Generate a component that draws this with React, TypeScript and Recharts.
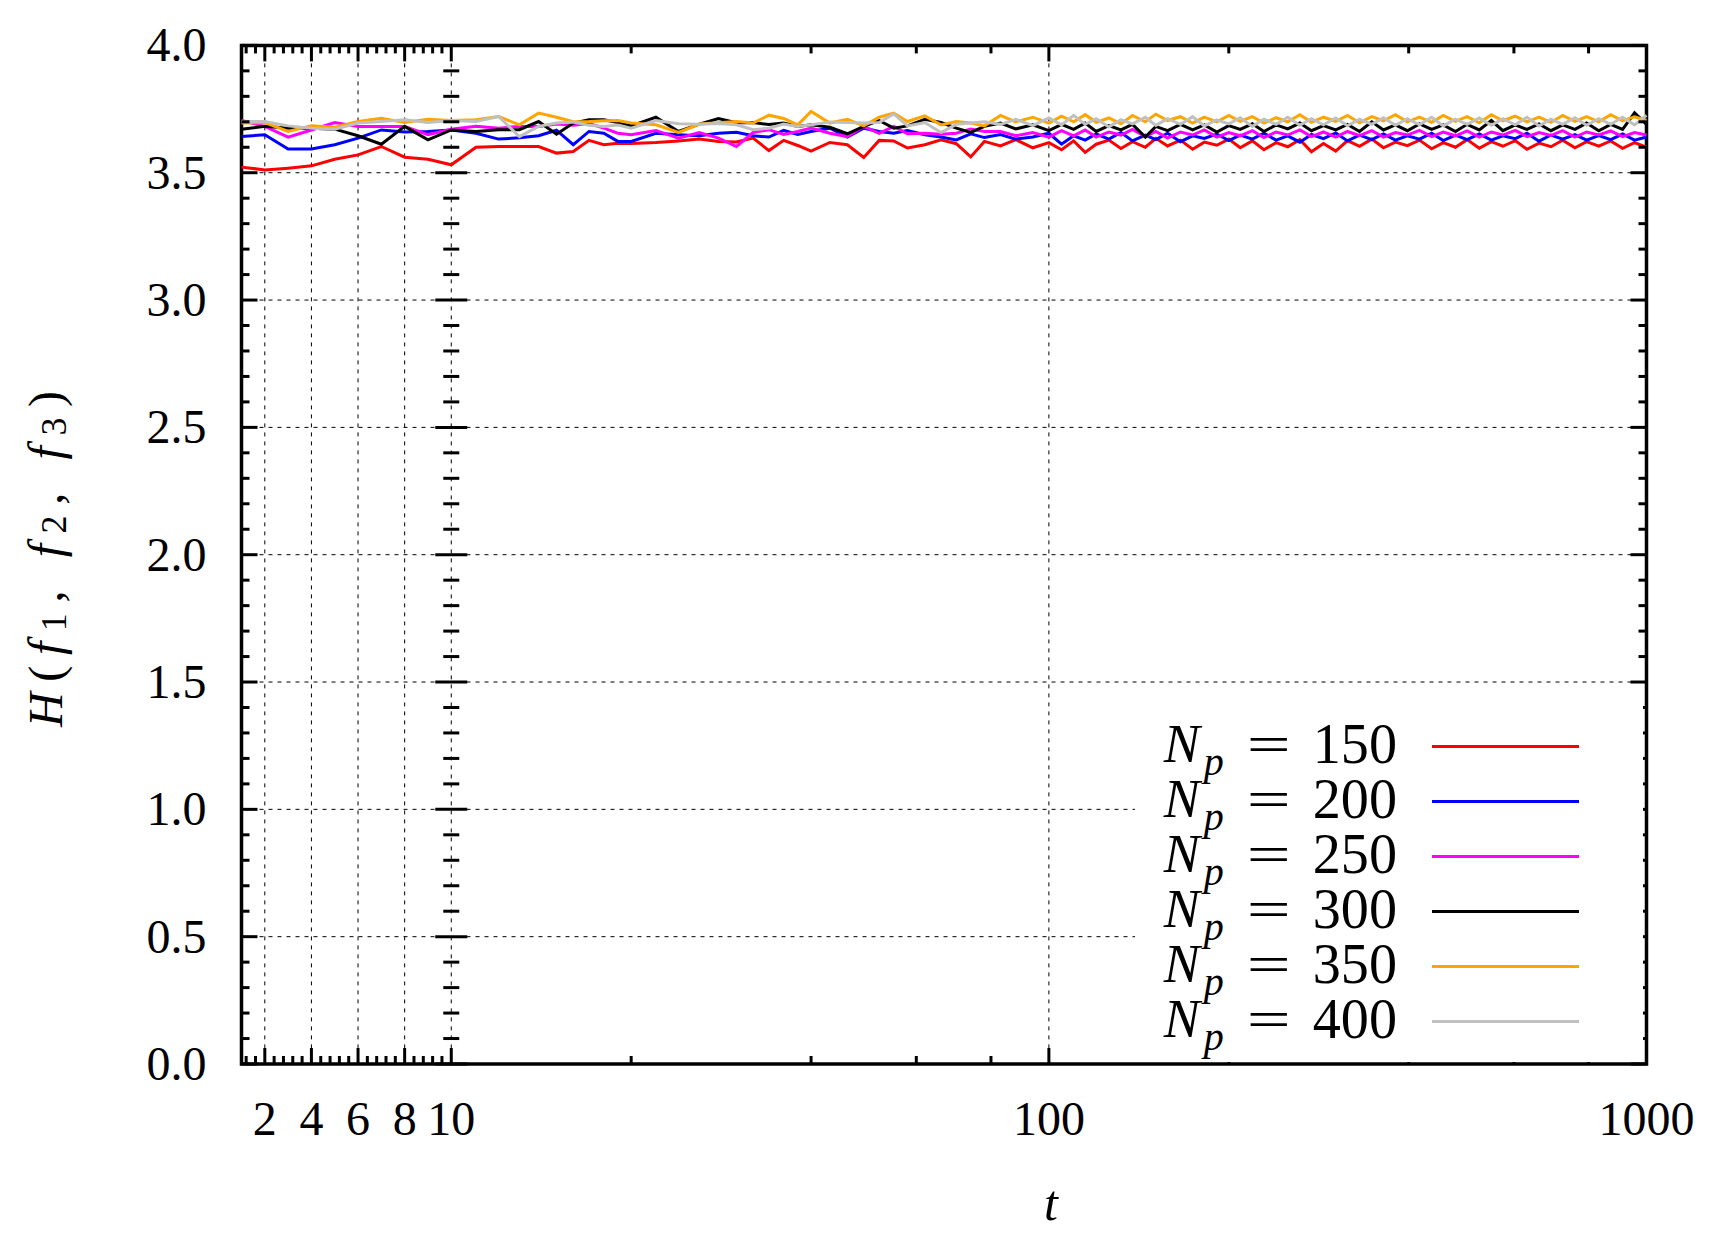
import React from 'react';
import { LineChart, Line, XAxis, YAxis, CartesianGrid, ReferenceArea, Legend } from 'recharts';

// time steps (1..10 linear panel, 10..1000 log panel)
const tSteps = [
  1, 2, 3, 4, 5, 6, 7, 8, 9, 10,
  11, 12, 13, 14, 15, 16, 17, 18, 19, 20,
  22, 24, 26, 28, 30, 32, 34, 36, 38, 40,
  43, 46, 49, 52, 55, 58, 62, 66, 70, 74, 78,
  83, 88, 94,
  100, 105, 110, 115, 120, 126, 132, 138, 145, 151,
  158, 166, 174, 182, 191, 200, 209, 219, 229, 240,
  251, 263, 275, 288, 302, 316, 331, 347, 363, 380,
  398, 417, 437, 457, 479, 501, 525, 550, 575, 603,
  631, 661, 692, 724, 759, 794, 832, 871, 912, 955,
  1000,
];

const hNp150 = [
  3.522, 3.511, 3.518, 3.527, 3.553, 3.570, 3.603, 3.561, 3.553, 3.531,
  3.600, 3.603, 3.603, 3.603, 3.577, 3.583, 3.627, 3.610, 3.616, 3.615,
  3.619, 3.625, 3.632, 3.623, 3.621, 3.636, 3.587, 3.627, 3.607, 3.585,
  3.619, 3.610, 3.560, 3.627, 3.625, 3.597, 3.610, 3.629, 3.614, 3.562, 3.623,
  3.605, 3.630, 3.598,
  3.618, 3.590, 3.625, 3.580, 3.612, 3.628, 3.595, 3.622, 3.600, 3.635,
  3.605, 3.628, 3.592, 3.620, 3.608, 3.632, 3.598, 3.625, 3.590, 3.618,
  3.602, 3.630, 3.582, 3.615, 3.585, 3.626, 3.604, 3.632, 3.598, 3.620,
  3.606, 3.628, 3.594, 3.618, 3.600, 3.630, 3.596, 3.622, 3.604, 3.626,
  3.592, 3.616, 3.602, 3.628, 3.598, 3.622, 3.604, 3.625, 3.596, 3.618,
  3.600,
];

const hNp200 = [
  3.642, 3.649, 3.593, 3.593, 3.610, 3.636, 3.668, 3.660, 3.662, 3.668,
  3.655, 3.632, 3.637, 3.645, 3.667, 3.610, 3.662, 3.655, 3.623, 3.623,
  3.655, 3.649, 3.645, 3.655, 3.659, 3.645, 3.640, 3.666, 3.650, 3.662,
  3.675, 3.640, 3.675, 3.662, 3.655, 3.666, 3.649, 3.640, 3.629, 3.653, 3.638,
  3.650, 3.632, 3.640,
  3.655, 3.612, 3.645, 3.628, 3.652, 3.632, 3.658, 3.625, 3.648, 3.630,
  3.655, 3.622, 3.645, 3.635, 3.652, 3.626, 3.648, 3.632, 3.655, 3.628,
  3.645, 3.620, 3.650, 3.634, 3.656, 3.625, 3.648, 3.630, 3.652, 3.628,
  3.645, 3.632, 3.655, 3.626, 3.648, 3.630, 3.652, 3.628, 3.645, 3.634,
  3.655, 3.624, 3.648, 3.632, 3.650, 3.628, 3.646, 3.630, 3.652, 3.628,
  3.640,
];

const hNp250 = [
  3.705, 3.682, 3.640, 3.668, 3.697, 3.682, 3.682, 3.682, 3.649, 3.671,
  3.682, 3.675, 3.682, 3.682, 3.691, 3.686, 3.693, 3.675, 3.655, 3.649,
  3.666, 3.636, 3.658, 3.636, 3.603, 3.658, 3.669, 3.650, 3.662, 3.675,
  3.655, 3.642, 3.682, 3.655, 3.682, 3.653, 3.655, 3.651, 3.655, 3.672, 3.662,
  3.662, 3.645, 3.658,
  3.640, 3.665, 3.645, 3.668, 3.640, 3.660, 3.648, 3.670, 3.642, 3.662,
  3.636, 3.660, 3.648, 3.668, 3.640, 3.658, 3.645, 3.665, 3.638, 3.660,
  3.648, 3.668, 3.642, 3.660, 3.640, 3.662, 3.646, 3.665, 3.640, 3.658,
  3.648, 3.666, 3.642, 3.660, 3.645, 3.664, 3.640, 3.660, 3.648, 3.666,
  3.642, 3.658, 3.646, 3.665, 3.640, 3.660, 3.648, 3.664, 3.642, 3.658,
  3.648,
];

const hNp300 = [
  3.671, 3.682, 3.675, 3.675, 3.671, 3.645, 3.612, 3.682, 3.629, 3.668,
  3.662, 3.669, 3.669, 3.701, 3.651, 3.695, 3.708, 3.708, 3.697, 3.684,
  3.718, 3.662, 3.691, 3.713, 3.696, 3.697, 3.689, 3.695, 3.682, 3.688,
  3.679, 3.653, 3.682, 3.705, 3.675, 3.684, 3.710, 3.697, 3.675, 3.658, 3.682,
  3.695, 3.672, 3.688,
  3.665, 3.690, 3.670, 3.695, 3.662, 3.685, 3.668, 3.690, 3.640, 3.682,
  3.665, 3.690, 3.668, 3.688, 3.660, 3.685, 3.670, 3.692, 3.662, 3.688,
  3.672, 3.695, 3.665, 3.685, 3.668, 3.690, 3.662, 3.700, 3.668, 3.688,
  3.665, 3.692, 3.670, 3.688, 3.662, 3.690, 3.668, 3.705, 3.665, 3.688,
  3.670, 3.692, 3.665, 3.688, 3.670, 3.695, 3.665, 3.690, 3.670, 3.735,
  3.690,
];

const hNp350 = [
  3.695, 3.697, 3.662, 3.684, 3.679, 3.701, 3.714, 3.697, 3.710, 3.705,
  3.708, 3.721, 3.688, 3.734, 3.718, 3.700, 3.701, 3.704, 3.705, 3.695,
  3.688, 3.658, 3.691, 3.696, 3.701, 3.695, 3.726, 3.713, 3.688, 3.741,
  3.695, 3.710, 3.684, 3.718, 3.734, 3.701, 3.723, 3.688, 3.701, 3.695, 3.684,
  3.725, 3.700, 3.718,
  3.695, 3.722, 3.700, 3.728, 3.698, 3.715, 3.692, 3.725, 3.700, 3.730,
  3.705, 3.720, 3.695, 3.718, 3.700, 3.725, 3.702, 3.720, 3.695, 3.716,
  3.700, 3.728, 3.698, 3.718, 3.702, 3.725, 3.696, 3.720, 3.704, 3.728,
  3.700, 3.718, 3.698, 3.725, 3.702, 3.720, 3.696, 3.728, 3.704, 3.722,
  3.700, 3.718, 3.698, 3.725, 3.702, 3.720, 3.700, 3.728, 3.704, 3.720,
  3.706,
];

const hNp400 = [
  3.701, 3.701, 3.684, 3.675, 3.671, 3.695, 3.701, 3.708, 3.697, 3.705,
  3.701, 3.721, 3.642, 3.682, 3.695, 3.699, 3.686, 3.682, 3.687, 3.675,
  3.705, 3.692, 3.690, 3.693, 3.688, 3.669, 3.675, 3.691, 3.682, 3.688,
  3.699, 3.697, 3.695, 3.697, 3.731, 3.684, 3.697, 3.658, 3.690, 3.695, 3.700,
  3.690, 3.710, 3.685,
  3.715, 3.688, 3.725, 3.690, 3.712, 3.680, 3.708, 3.692, 3.718, 3.686,
  3.712, 3.690, 3.720, 3.684, 3.708, 3.692, 3.716, 3.682, 3.710, 3.690,
  3.718, 3.686, 3.712, 3.688, 3.715, 3.684, 3.710, 3.690, 3.716, 3.686,
  3.712, 3.688, 3.718, 3.684, 3.710, 3.690, 3.715, 3.686, 3.712, 3.688,
  3.718, 3.684, 3.710, 3.690, 3.716, 3.686, 3.712, 3.690, 3.718, 3.688,
  3.725,
];

const series = [
  { key: 'np150', label: '150', color: '#ff0000', values: hNp150 },
  { key: 'np200', label: '200', color: '#0000ff', values: hNp200 },
  { key: 'np250', label: '250', color: '#ff00ff', values: hNp250 },
  { key: 'np300', label: '300', color: '#000000', values: hNp300 },
  { key: 'np350', label: '350', color: '#ffa500', values: hNp350 },
  { key: 'np400', label: '400', color: '#c0c0c0', values: hNp400 },
];

const majorXTicks = [2, 4, 6, 8, 10, 100, 1000];
const minorXTicks = [
  1.2, 1.6, 2.4, 2.8, 3.2, 3.6, 4.4, 4.8, 5.2, 5.6, 6.4, 6.8, 7.2, 7.6, 8.4, 8.8, 9.2, 9.6,
  20, 40, 60, 80, 200, 400, 600, 800,
];
const gridXTicks = [2, 4, 6, 8, 10, 100];
const yTicks = [
  0, 0.1, 0.2, 0.3, 0.4, 0.5, 0.6, 0.7, 0.8, 0.9, 1.0, 1.1, 1.2, 1.3, 1.4, 1.5, 1.6, 1.7, 1.8, 1.9, 2.0,
  2.1, 2.2, 2.3, 2.4, 2.5, 2.6, 2.7, 2.8, 2.9, 3.0, 3.1, 3.2, 3.3, 3.4, 3.5, 3.6, 3.7, 3.8, 3.9, 4.0,
];
const gridYTicks = [0.5, 1.0, 1.5, 2.0, 2.5, 3.0, 3.5];

const W = 1700;
const H = 1230;
// axes get 1px of room (an axis with zero size is not drawn)
const margin = { top: 37.4, right: 61.5, bottom: 173, left: 232.5 };
const plotLeft = margin.left + 1;
const plotW = W - plotLeft - margin.right;
const plotH = H - margin.top - margin.bottom - 1;
const SPLIT = 0.1493; // width share of the linear 1..10 panel
const FONT = "'Liberation Serif', 'Times New Roman', serif";

// broken axis: linear on 1..10, log on 10..1000
const toU = (t: number) =>
  t <= 10 ? ((t - 1) / 9) * SPLIT : SPLIT + ((1 - SPLIT) * Math.log10(t / 10)) / 2;
const xPx = (t: number) => plotLeft + toU(t) * plotW;
const yPx = (v: number) => margin.top + ((4 - v) / 4) * plotH;

const majorLabel = new Map(majorXTicks.map((t) => [toU(t).toFixed(6), String(t)]));

const data = tSteps.map((t, i) => {
  const row: any = { u: toU(t) };
  series.forEach((s) => {
    row[s.key] = s.values[i];
  });
  return row;
});

const XTick = (props: any) => {
  const { x, y, payload } = props;
  const label = majorLabel.get(Number(payload.value).toFixed(6));
  const len = label ? 16 : 8;
  const top = y - plotH;
  return (
    <g>
      <line x1={x} x2={x} y1={y} y2={y - len} stroke="#000" strokeWidth={3} />
      <line x1={x} x2={x} y1={top} y2={top + len} stroke="#000" strokeWidth={3} />
      {label && (
        <text x={x} y={y + 71} textAnchor="middle" fontFamily={FONT} fontSize={48} fill="#000">
          {label}
        </text>
      )}
    </g>
  );
};

const YTick = (props: any) => {
  const { x, y, payload } = props;
  const v = Number(payload.value);
  const major = Math.round(v * 10) % 5 === 0;
  const len = major ? 16 : 8;
  const mid = xPx(10);
  const right = plotLeft + plotW;
  return (
    <g>
      <line x1={x} x2={x + len} y1={y} y2={y} stroke="#000" strokeWidth={3} />
      <line x1={mid - len} x2={mid + len} y1={y} y2={y} stroke="#000" strokeWidth={3} />
      <line x1={right - len} x2={right} y1={y} y2={y} stroke="#000" strokeWidth={3} />
      {major && (
        <text x={x - 35} y={y + 16} textAnchor="end" fontFamily={FONT} fontSize={48} fill="#000">
          {v.toFixed(1)}
        </text>
      )}
    </g>
  );
};

const xTitle = () => (
  <text x={1043} y={1212} textAnchor="middle" fontFamily={FONT} fontSize={50} fontStyle="italic" fill="#000">
    t
  </text>
);

const yTitle = () => (
  <text
    x={37}
    y={551}
    transform="rotate(-90, 37, 551)"
    textAnchor="middle"
    dominantBaseline="central"
    fontFamily={FONT}
    fontSize={48}
    fill="#000"
    textLength={336}
    lengthAdjust="spacing"
  >
    <tspan fontStyle="italic">H</tspan>
    <tspan>(</tspan>
    <tspan fontStyle="italic">f</tspan>
    <tspan fontSize={36} dy={9}>1</tspan>
    <tspan dy={-9}>, </tspan>
    <tspan fontStyle="italic">f</tspan>
    <tspan fontSize={36} dy={9}>2</tspan>
    <tspan dy={-9}>, </tspan>
    <tspan fontStyle="italic">f</tspan>
    <tspan fontSize={36} dy={9}>3</tspan>
    <tspan dy={-9}>)</tspan>
  </text>
);

const renderLegend = () => (
  <div style={{ background: '#fff', width: 508, height: 362, paddingTop: 18.5, boxSizing: 'border-box' }}>
    {series.map((s) => (
      <div key={s.key} style={{ display: 'flex', alignItems: 'center', height: 55 }}>
        <div
          style={{
            width: 262,
            textAlign: 'right',
            fontFamily: FONT,
            fontSize: 52,
            lineHeight: '55px',
            whiteSpace: 'nowrap',
            color: '#000',
          }}
        >
          <span style={{ fontStyle: 'italic', fontSize: 54, letterSpacing: 4 }}>N</span>
          <span style={{ fontStyle: 'italic', fontSize: 40, position: 'relative', top: 13 }}>p</span>
          <span style={{ display: 'inline-block', margin: '0 36px 0 30px', transform: 'scaleX(1.5)' }}>=</span>
          <span style={{ display: 'inline-block', transform: 'scale(1.08)', transformOrigin: 'right center' }}>
            {s.label}
          </span>
        </div>
        <div style={{ marginLeft: 35, width: 147, height: 3, background: s.color }} />
      </div>
    ))}
  </div>
);

export default function App() {
  return (
    <div style={{ width: W, height: H, background: '#fff' }}>
      <LineChart width={W} height={H} data={data} margin={margin}>
        <CartesianGrid
          stroke="#000"
          strokeWidth={1}
          strokeDasharray="4 5"
          verticalPoints={gridXTicks.map(xPx)}
          horizontalPoints={gridYTicks.map(yPx)}
        />
        <XAxis
          dataKey="u"
          type="number"
          domain={[0, 1]}
          ticks={[...majorXTicks, ...minorXTicks].map(toU)}
          interval={0}
          height={1}
          tickSize={0}
          tickMargin={0}
          axisLine={false}
          tickLine={false}
          tick={<XTick />}
          label={xTitle}
        />
        <YAxis
          type="number"
          domain={[0, 4]}
          ticks={yTicks}
          interval={0}
          width={1}
          tickSize={0}
          tickMargin={0}
          axisLine={false}
          tickLine={false}
          tick={<YTick />}
          label={yTitle}
        />
        {series.map((s) => (
          <Line
            key={s.key}
            type="linear"
            dataKey={s.key}
            stroke={s.color}
            strokeWidth={3}
            dot={false}
            isAnimationActive={false}
          />
        ))}
        <ReferenceArea x1={0} x2={1} y1={0} y2={4} fill="none" stroke="#000" strokeWidth={3.5} ifOverflow="visible" />
        <Legend
          layout="vertical"
          align="center"
          verticalAlign="middle"
          content={renderLegend}
          wrapperStyle={{ left: 1127, top: 692, width: 508, height: 362 }}
        />
      </LineChart>
    </div>
  );
}
